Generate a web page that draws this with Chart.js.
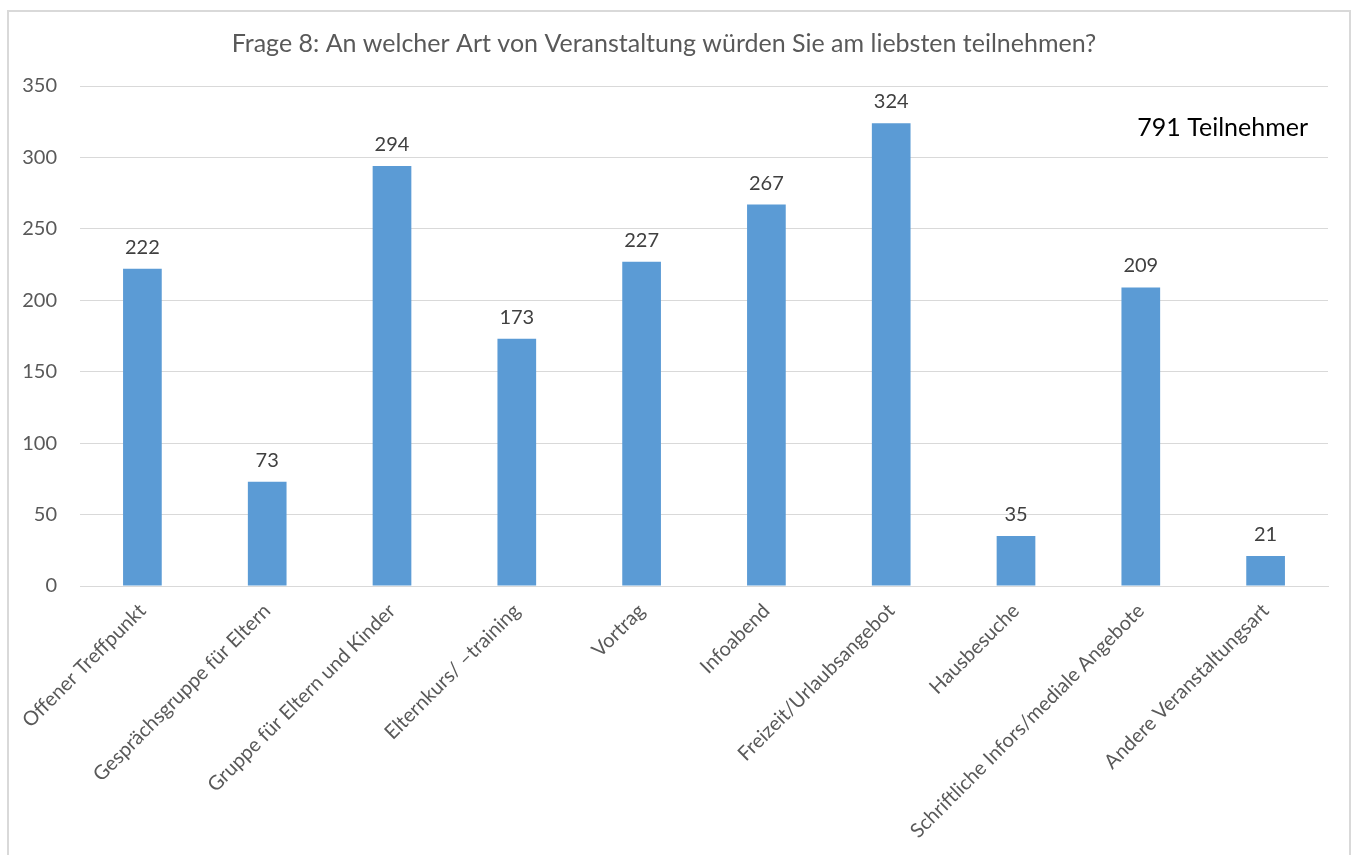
<!DOCTYPE html>
<html>
<head>
<meta charset="utf-8">
<script src="https://cdn.jsdelivr.net/npm/chart.js@4"></script>
<style>
  html, body { margin: 0; padding: 0; background: #fff; }
  #frame { position: absolute; left: 7px; top: 10px; width: 1340px; height: 860px; border: 2px solid #d9d9d9; }
  #wrap { position: absolute; left: 0; top: 0; width: 1351px; height: 855px; }
</style>
</head>
<body>
<div id="frame"></div>
<div id="wrap"><canvas id="chart" width="1351" height="855"></canvas></div>
<script>
// Daten aus der Grafik
const kategorien = [
    "Offener Treffpunkt",
    "Gesprächsgruppe für Eltern",
    "Gruppe für Eltern und Kinder",
    "Elternkurs/ \u2013training",
    "Vortrag",
    "Infoabend",
    "Freizeit/Urlaubsangebot",
    "Hausbesuche",
    "Schriftliche Infors/mediale Angebote",
    "Andere Veranstaltungsart"
];
const anzahl = [222, 73, 294, 173, 227, 267, 324, 35, 209, 21];
const yTicks = [0, 50, 100, 150, 200, 250, 300, 350];
const titel = "Frage 8: An welcher Art von Veranstaltung würden Sie am liebsten teilnehmen?";
const hinweis = "791 Teilnehmer";

const schrift = "Lato, 'Open Sans', sans-serif";

// Werte über den Balken + Hinweis rechts oben
const wertePlugin = {
    id: "werte",
    afterDatasetsDraw(chart) {
        const ctx = chart.ctx;
        const meta = chart.getDatasetMeta(0);
        ctx.save();
        ctx.font = "20px " + schrift;
        ctx.fillStyle = "#404040";
        ctx.textAlign = "center";
        ctx.textBaseline = "alphabetic";
        meta.data.forEach((bar, i) => {
            ctx.fillText(anzahl[i], bar.x, bar.y - 15);
        });
        ctx.font = "25px " + schrift;
        ctx.fillStyle = "#000";
        ctx.textAlign = "right";
        ctx.textBaseline = "middle";
        ctx.fillText(hinweis, 1308, 128);
        ctx.restore();
    }
};

const ctx = document.getElementById("chart").getContext("2d");
new Chart(ctx, {
    type: "bar",
    data: {
        labels: kategorien,
        datasets: [{
            data: anzahl,
            backgroundColor: "#5b9bd5",
            barPercentage: 0.31,
            categoryPercentage: 1
        }]
    },
    options: {
        responsive: false,
        animation: false,
        layout: { padding: { left: 0, right: 23, top: 0, bottom: 0 } },
        plugins: {
            legend: { display: false },
            tooltip: { enabled: false },
            title: {
                display: true,
                text: titel,
                color: "#595959",
                font: { family: schrift, size: 25, weight: "normal" },
                padding: { top: 29, bottom: 27 }
            }
        },
        scales: {
            x: {
                grid: { display: false, drawTicks: false },
                border: { display: true, color: "#d9d9d9", width: 1 },
                ticks: {
                    color: "#595959",
                    font: { family: schrift, size: 20 },
                    minRotation: 45,
                    maxRotation: 45,
                    autoSkip: false,
                    padding: 13
                },
                afterFit(scale) { scale.height = 269; }
            },
            y: {
                min: 0,
                max: 350,
                afterBuildTicks(scale) {
                    scale.ticks = yTicks.map(v => ({ value: v }));
                },
                grid: { color: "#d9d9d9", lineWidth: 1, drawTicks: false },
                border: { display: false },
                ticks: {
                    color: "#595959",
                    font: { family: schrift, size: 20 },
                    padding: 23
                },
                afterFit(scale) { scale.width = 80; }
            }
        }
    },
    plugins: [wertePlugin]
});
</script>
</body>
</html>
